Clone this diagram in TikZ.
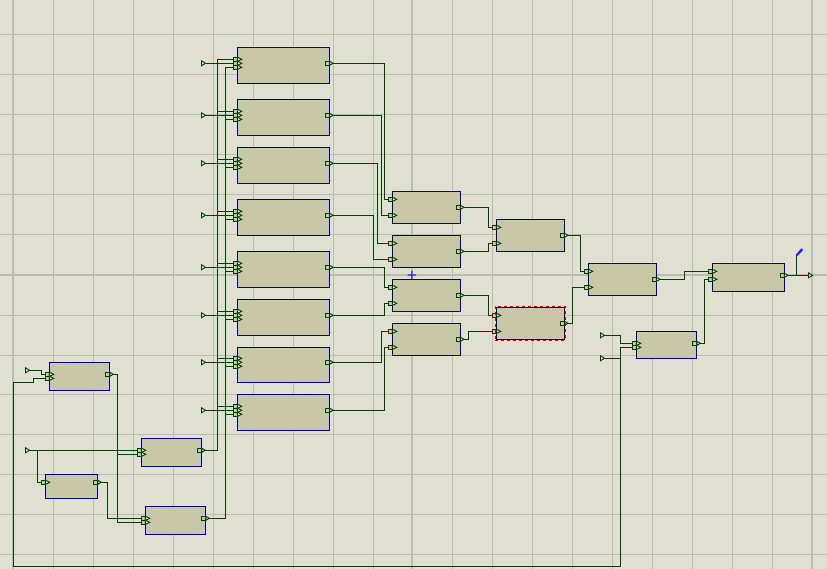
\documentclass[tikz,border=0pt]{standalone}
\usepackage{tikz}
\usetikzlibrary{positioning,fit,calc,backgrounds}
\definecolor{sheetcol}{RGB}{223,224,210}
\definecolor{gridcol}{RGB}{188,188,174}
\definecolor{chipcol}{RGB}{200,200,169}
\definecolor{wirecol}{RGB}{0,64,0}
\definecolor{edgecol}{RGB}{0,0,128}
\tikzset{
  chip/.style={draw=edgecol, fill=chipcol, line width=1.05pt, anchor=north west, inner sep=0pt, outer sep=0pt},
  pinbox/.style={draw=wirecol, fill=chipcol, line width=1.1pt, minimum size=4.2pt, inner sep=0pt, outer sep=0pt},
  pintip/.style={draw=wirecol, fill=sheetcol, line width=0.9pt},
  portmark/.style={inner sep=0pt, outer sep=0pt, minimum size=0pt},
  wire/.style={draw=wirecol, line width=1.15pt},
  gridline/.style={draw=gridcol, line width=1pt},
  gridmajor/.style={draw=gridcol, line width=2pt}
}
% pin on the left side of a chip
\newcommand{\inpin}[3]{
  \node[pinbox] (#1) at (#2,#3) {};
  \draw[pintip] (#1.north east) -- ($(#1.east)+(4.4,0)$) -- (#1.south east) -- cycle;
}
% pin on the right side of a chip
\newcommand{\outpin}[3]{
  \node[pinbox] (#1) at (#2,#3) {};
  \draw[pintip] (#1.north east) -- ($(#1.east)+(3.6,0)$) -- (#1.south east) -- cycle;
}
% free terminal with its tip on the wire
\newcommand{\terminal}[3]{
  \node[portmark] (#1) at (#2,#3) {};
  \draw[pintip] (#1) -- ++(-4,-2.5) -- ++(0,5) -- cycle;
}
\begin{document}
\begin{tikzpicture}[x=1pt,y=-1pt]
  \useasboundingbox (0,0) rectangle (827,569);
  \clip (0,0) rectangle (827,569);

  % eight large chips of the first column
  \foreach \i/\t/\p/\h in {1/47.3/63.3/36,2/99.3/115.3/36,3/147.3/163.3/36,4/199.3/215.3/36,5/251.3/267.3/36,6/299.3/315.3/36,7/347.3/362.3/35,8/394.3/410.3/36} {
    \node[chip, minimum width=92.5pt, minimum height=\h pt] (B\i) at (237.2,\t) {};
    \inpin{B\i a}{235.3}{\p-4}
    \inpin{B\i b}{235.3}{\p}
    \inpin{B\i c}{235.3}{\p+4}
    \outpin{B\i o}{327.5}{\p}
    \terminal{S\i}{205.5}{\p}
  }

  % second and third columns
  \foreach \n/\t/\p in {M1/191.3/199.3,M2/235.3/243.3,M3/279.3/287.3,M4/323.3/331.3} {
    \node[chip, minimum width=68pt, minimum height=32pt] (\n) at (392.3,\t) {};
    \inpin{\n a}{390.3}{\p}
    \inpin{\n b}{390.3}{\p+16}
    \outpin{\n o}{458.3}{\p+8}
  }
  \foreach \n/\t/\p in {T1/219.3/227.3,T2/307.3/315.3} {
    \node[chip, minimum width=68pt, minimum height=32pt] (\n) at (496.3,\t) {};
    \inpin{\n a}{494.3}{\p}
    \inpin{\n b}{494.3}{\p+16}
    \outpin{\n o}{562.3}{\p+8}
  }

  % right part
  \node[chip, minimum width=68pt, minimum height=32pt] (F) at (588.3,263.3) {};
  \inpin{Fa}{586.3}{271.3}
  \inpin{Fb}{586.3}{287.3}
  \outpin{Fo}{654.3}{279.3}
  \node[chip, minimum width=72pt, minimum height=28pt] (L) at (712.3,263.3) {};
  \inpin{La}{710.3}{271.3}
  \inpin{Lb}{710.3}{279.3}
  \outpin{Lo}{782.3}{275.3}
  \node[chip, minimum width=60.4pt, minimum height=27pt] (E) at (636.3,331.3) {};
  \inpin{Ea}{634.3}{343.3}
  \inpin{Eb}{634.3}{347.3}
  \outpin{Eo}{694.7}{343.3}
  \terminal{Sx}{604.5}{335.3}
  \terminal{Sy}{604.5}{358.3}
  \terminal{Q}{812.5}{275.3}

  % lower left chips
  \node[chip, minimum width=60.4pt, minimum height=28.4pt] (A) at (49.3,362.3) {};
  \inpin{Aa}{47.3}{374.3}
  \inpin{Ab}{47.3}{378.3}
  \outpin{Ao}{107.7}{374.3}
  \node[chip, minimum width=52.4pt, minimum height=24pt] (P) at (45.3,474.3) {};
  \inpin{Pa}{43.3}{482.3}
  \outpin{Po}{95.7}{482.3}
  \node[chip, minimum width=60.4pt, minimum height=28.4pt] (C) at (141.3,438.3) {};
  \inpin{Ca}{139.3}{450.3}
  \inpin{Cb}{139.3}{454.3}
  \outpin{Co}{199.7}{450.3}
  \node[chip, minimum width=60.4pt, minimum height=28pt] (D) at (145.3,506.3) {};
  \inpin{Da}{143.3}{518.3}
  \inpin{Db}{143.3}{522.3}
  \outpin{Do}{203.7}{518.3}
  \terminal{Sa}{29.5}{370.3}
  \terminal{Sc}{29.5}{450.3}

  % selection frame and marks
  \node[fit=(T2), draw=red!85!black, dashed, line width=1.1pt, inner sep=1pt, outer sep=0pt] (sel) {};
  \node[text=blue, font=\large\sffamily\bfseries, inner sep=0pt] (cursor) at (412,275.5) {+};

  \begin{scope}[on background layer]
    \fill[sheetcol] (0,0) rectangle (827,569);
    \foreach \x in {53,93,133,173,213,253,293,333,373,452.7,492.7,532.7,572.7,612.3,652.7,692.3,732.3,772.7}
      \draw[gridline] (\x,0) -- (\x,569);
    \foreach \y in {35,75,115,155,195,235,315,355,394,434,474,514,554}
      \draw[gridline] (0,\y) -- (827,\y);
    \foreach \x in {13,412,812}
      \draw[gridmajor] (\x,0) -- (\x,569);
    \draw[gridmajor] (0,275) -- (827,275);

    % buses to the large chips
    \draw[wire] (Co.east) -- ++(15.6,0) |- (B1a);
    \draw[wire] (Do.east) -- ++(19.6,0) |- (B1c);
    \coordinate (trunkA) at (217.3,0);
    \coordinate (trunkB) at (225.3,0);
    \foreach \i in {1,...,8} {
      \draw[wire] (S\i) -- (B\i b);
      \draw[wire] (trunkA |- B\i a) -- (B\i a);
      \draw[wire] (trunkB |- B\i c) -- (B\i c);
    }

    % first column to second column
    \draw[wire] (B1o) -- ++(56.8,0) |- (M1a);
    \draw[wire] (B2o) -- ++(54,0) |- (M1b);
    \draw[wire] (B3o) -- ++(49.8,0) |- (M2a);
    \draw[wire] (B4o) -- ++(45.8,0) |- (M2b);
    \draw[wire] (B5o) -- ++(56.8,0) |- (M3a);
    \draw[wire] (B6o) -- ++(56.8,0) |- (M3b);
    \draw[wire] (B7o) -- ++(54,0) |- (M4a);
    \draw[wire] (B8o) -- ++(56.8,0) |- (M4b);

    % towards the output
    \draw[wire] (M1o) -- ++(30,0) |- (T1a);
    \draw[wire] (M2o) -- ++(30,0) |- (T1b);
    \draw[wire] (M3o) -- ++(30,0) |- (T2a);
    \draw[wire] (M4o) -- ++(10,0) |- (T2b);
    \draw[wire] (T1o) -- ++(18,0) |- (Fa);
    \draw[wire] (T2o) -- ++(10,0) |- (Fb);
    \draw[wire] (Fo) -- ++(30,0) |- (La);
    \draw[wire] (Eo) -- ++(9.6,0) |- (Lb);
    \draw[wire] (Lo) -- (Q);
    \coordinate (probe) at (796.3,275.3);
    \draw[wire] (probe) -- ++(0,-20);
    \draw[draw=blue, line width=2.4pt, dash pattern=on 1.2pt off 0.6pt] (796.8,255) -- (802.4,249.2);

    % lower left wiring
    \draw[wire] (Sa) -- (41.7,370.3) |- (Aa);
    \draw[wire] (Ab) -| (33.3,382.3) -- (13.3,382.3) |- (620.3,566.3) |- (Eb);
    \draw[wire] (Sc) -- (Ca);
    \coordinate (tapS) at (37.3,450.3);
    \draw[wire] (tapS) |- (Pa);
    \draw[wire] (Ao) -- ++(9.6,0) |- (Db);
    \coordinate (tapA) at (117.3,454.3);
    \draw[wire] (tapA) -- (Cb);
    \draw[wire] (Po) -- ++(11.6,0) |- (Da);
    \draw[wire] (Sx) -- (620.6,335.3) |- (Ea);
    \draw[wire] (Sy) -- (620.3,358.3);
  \end{scope}
\end{tikzpicture}
\end{document}
